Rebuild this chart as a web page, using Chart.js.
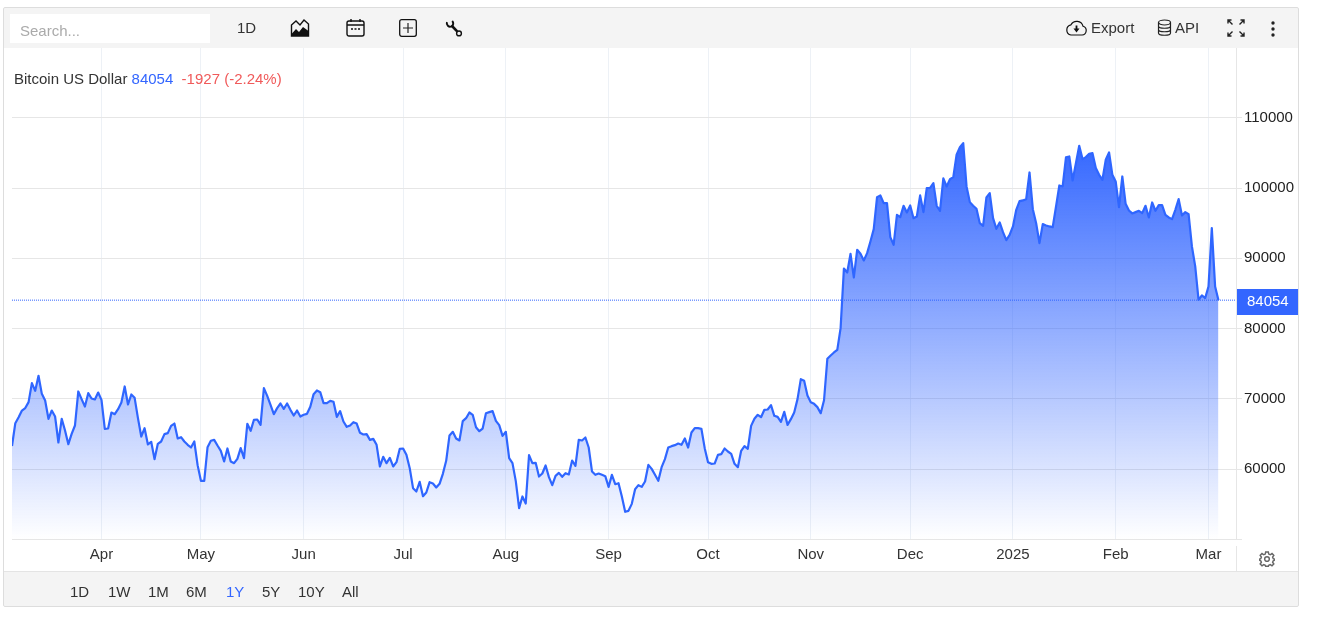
<!DOCTYPE html>
<html>
<head>
<meta charset="utf-8">
<title>Bitcoin US Dollar</title>
<script src="https://cdn.jsdelivr.net/npm/chart.js@4"></script>
<style>
  html, body { margin: 0; padding: 0; background: #fff; }
  body { width: 1320px; height: 628px; overflow: hidden; position: relative; font-family: "Liberation Sans", Arial, sans-serif; color: #333; }
  canvas { position: absolute; left: 0; top: 0; }
  .frame { position: absolute; left: 3px; top: 7px; width: 1294px; height: 598px; border: 1px solid #ddd; border-radius: 2px; pointer-events: none; }
  .bar { position: absolute; background: #f4f4f4; }
  .txt { position: absolute; font-size: 15px; line-height: 16px; white-space: nowrap; color: #333; }
  .ico { position: absolute; }
</style>
</head>
<body>
<canvas id="chart" width="1320" height="628"></canvas>

<div class="bar" style="left:4px;top:8px;width:1294px;height:40px"></div>
<div class="bar" style="left:4px;top:571px;width:1294px;height:34px;border-top:1px solid #e4e4e4"></div>
<div style="position:absolute;left:1236px;top:546px;width:1px;height:25px;background:#e6e6e6"></div>
<div class="frame"></div>

<div style="position:absolute;left:10px;top:14px;width:200px;height:29px;background:#fff"></div>
<div class="txt" style="left:20px;top:23px;color:#aaa">Search...</div>
<div class="txt" style="left:237px;top:20px">1D</div>

<svg class="ico" style="left:290px;top:18px" width="20" height="20" viewBox="0 0 20 20">
  <path d="M1.5 7 L6 3 L10 7 L14 2 L18.5 6 V18 H1.5 Z" fill="none" stroke="#111" stroke-width="1.4"/>
  <path d="M1.5 16 L6 11 L9 14 L13 9 L18.5 13 V18 H1.5 Z" fill="#111"/>
</svg>
<svg class="ico" style="left:346px;top:18px" width="19" height="19" viewBox="0 0 19 19">
  <rect x="1" y="3" width="17" height="15" rx="2" fill="none" stroke="#111" stroke-width="1.4"/>
  <path d="M1 7 H18 M5 1 V4 M14 1 V4" stroke="#111" stroke-width="1.4"/>
  <path d="M5 11 H7 M8.5 11 H10.5 M12 11 H14" stroke="#111" stroke-width="1.4"/>
</svg>
<svg class="ico" style="left:399px;top:19px" width="18" height="18" viewBox="0 0 18 18">
  <rect x="0.7" y="0.7" width="16.6" height="16.6" rx="2" fill="none" stroke="#111" stroke-width="1.3"/>
  <path d="M9 4 V14 M4 9 H14" stroke="#222" stroke-width="1.2"/>
</svg>
<svg class="ico" style="left:445px;top:19px" width="18" height="19" viewBox="0 0 18 19">
  <path d="M2.0 3.2 A3.3 3.3 0 0 0 6.5 7.3 A3.3 3.3 0 0 0 7.2 2" fill="none" stroke="#111" stroke-width="2"/>
  <path d="M6.5 6.5 L12.2 12.4" stroke="#111" stroke-width="2.6"/>
  <circle cx="14" cy="14.4" r="2.4" fill="none" stroke="#111" stroke-width="1.4"/>
</svg>

<svg class="ico" style="left:1065px;top:19px" width="23" height="18" viewBox="0 0 23 18">
  <path d="M6 16 H17 A4.5 4.5 0 0 0 18 7.2 A6.5 6.5 0 0 0 6 5.8 A5.2 5.2 0 0 0 6 16 Z" fill="none" stroke="#111" stroke-width="1.2"/>
  <path d="M8.5 9.5 H14.5 L11.5 13.5 Z M10.6 6.5 H12.4 V10 H10.6 Z" fill="#111"/>
</svg>
<div class="txt" style="left:1091px;top:20px">Export</div>
<svg class="ico" style="left:1157px;top:19px" width="15" height="18" viewBox="0 0 15 18">
  <ellipse cx="7.5" cy="3.5" rx="6" ry="2.5" fill="none" stroke="#222" stroke-width="1.2"/>
  <path d="M1.5 3.5 V14 C1.5 17 13.5 17 13.5 14 V3.5 M1.5 7 C1.5 10 13.5 10 13.5 7 M1.5 10.5 C1.5 13.5 13.5 13.5 13.5 10.5" fill="none" stroke="#222" stroke-width="1.2"/>
</svg>
<div class="txt" style="left:1175px;top:20px">API</div>
<svg class="ico" style="left:1226px;top:18px" width="20" height="20" viewBox="0 0 20 20">
  <path d="M2 5.5 V2 H5.5 M2 2 L6.5 6.5 M14.5 2 H18 V5.5 M18 2 L13.5 6.5 M2 14.5 V18 H5.5 M2 18 L6.5 13.5 M14.5 18 H18 V14.5 M18 18 L13.5 13.5" fill="none" stroke="#222" stroke-width="1.4"/>
</svg>
<svg class="ico" style="left:1270px;top:20px" width="6" height="18" viewBox="0 0 6 18">
  <circle cx="3" cy="3" r="1.7" fill="#222"/><circle cx="3" cy="9" r="1.7" fill="#222"/><circle cx="3" cy="15" r="1.7" fill="#222"/>
</svg>

<div class="txt" style="left:14px;top:71px" id="title">Bitcoin US Dollar <span style="color:#3366ff">84054</span>&nbsp; <span style="color:#f05a5a">-1927 (-2.24%)</span></div>

<svg class="ico" style="left:1259px;top:551px" width="16" height="16" viewBox="0 0 24 24">
  <path d="M12 8.5 A3.5 3.5 0 1 0 12 15.5 A3.5 3.5 0 1 0 12 8.5 Z M10 1.5 H14 L14.6 4.6 L16.9 5.6 L19.5 3.8 L22.2 6.5 L20.4 9.1 L21.4 11.4 L23 12 V14 L21.4 14.6 L20.4 16.9 L22.2 19.5 L19.5 22.2 L16.9 20.4 L14.6 21.4 L14 23 H10 L9.4 21.4 L7.1 20.4 L4.5 22.2 L1.8 19.5 L3.6 16.9 L2.6 14.6 L1 14 V12 L2.6 11.4 L3.6 9.1 L1.8 6.5 L4.5 3.8 L7.1 5.6 L9.4 4.6 Z" fill="none" stroke="#666" stroke-width="2.2"/>
</svg>

<div class="txt" style="left:70px;top:584px">1D</div>
<div class="txt" style="left:108px;top:584px">1W</div>
<div class="txt" style="left:148px;top:584px">1M</div>
<div class="txt" style="left:186px;top:584px">6M</div>
<div class="txt" style="left:226px;top:584px;color:#3366ff">1Y</div>
<div class="txt" style="left:262px;top:584px">5Y</div>
<div class="txt" style="left:298px;top:584px">10Y</div>
<div class="txt" style="left:342px;top:584px">All</div>

<script>
// daily closes, first point is 2024-03-05
const prices = [
  63300, 66550, 67400, 68350, 68700, 69540, 72240, 71150, 73290, 70720,
  69780, 67170, 68350, 67500, 63800, 67170, 65510, 63560, 65030, 66220,
  71060, 69970, 68920, 70820, 70060, 69920, 70910, 69870, 65750, 65790,
  68070, 67830, 68540, 69490, 71770, 69210, 70630, 70160, 67260, 64650,
  65840, 63520, 63900, 61430, 63610, 63940, 64990, 65130, 66170, 66500,
  64370, 64560, 63940, 63470, 63090, 63940, 60580, 58350, 58350, 63140,
  64040, 64180, 63370, 62620, 61100, 62950, 61100, 60860, 61480, 63000,
  61570, 66460, 65460, 67030, 67070, 66310, 71530, 70440, 69160, 67830,
  68690, 69350, 68590, 69350, 68450, 67640, 68350, 67500, 67740, 67880,
  68880, 70680, 71200, 70960, 69400, 69400, 69730, 69590, 67450, 68260,
  66790, 66030, 66220, 66690, 66500, 65180, 64940, 64990, 64180, 64320,
  63470, 60390, 61760, 60860, 61620, 60390, 61000, 62900, 62950, 62050,
  60150, 57300, 56830, 58200, 56160, 56690, 58160, 57970, 57400, 57920,
  59340, 61190, 64800, 65320, 64370, 64090, 66840, 67260, 68070, 67740,
  65980, 65410, 65790, 67970, 68120, 68260, 66880, 66270, 64750, 65320,
  61570, 60860, 58300, 54460, 56120, 55120, 62000, 60860, 60910, 58960,
  59390, 60530, 58870, 57730, 59060, 59480, 58920, 59440, 59250, 61240,
  60480, 64180, 64090, 64510, 63090, 59670, 59200, 59390, 59200, 59010,
  57490, 59200, 57870, 58010, 56120, 53940, 54080, 55070, 57160, 57730,
  57490, 58250, 60620, 60050, 59200, 58350, 60290, 61430, 63090, 63280,
  63420, 63660, 63470, 64370, 63090, 65220, 65840, 65840, 65750, 63000,
  61000, 60770, 60810, 62050, 62140, 62950, 62520, 62190, 60770, 60290,
  62620, 63280, 62900, 66170, 67170, 67740, 67400, 68450, 68500, 69110,
  67600, 67450, 66740, 68160, 66310, 67120, 68070, 69970, 72810, 72580,
  70490, 69540, 69300, 68830, 67970, 69800, 75710, 76180, 76610, 76990,
  80070, 88560, 87990, 90650, 87280, 91220, 90650, 89700, 90740, 92400,
  94160, 98710, 98950, 97860, 97860, 93020, 91930, 96200, 95870, 97480,
  96530, 97530, 95720, 95960, 98950, 96580, 99990, 100040, 100700, 97480,
  96770, 101370, 100230, 101270, 101560, 104740, 105830, 106400, 100230, 98000,
  97480, 97050, 95010, 94630, 98660, 99280, 95720, 94200, 95110, 93730,
  92590, 93350, 94540, 96910, 98140, 98240, 98430, 102220, 97000, 95010,
  92170, 94870, 94680, 94540, 94440, 97380, 100370, 100230, 104360, 104500,
  101080, 103550, 106020, 104120, 104400, 104880, 104970, 102840, 101890, 101180,
  104020, 105070, 101890, 100940, 97290, 101650, 97760, 96810, 96390, 96580,
  96770, 96430, 97480, 95820, 97950, 96770, 97570, 97570, 96200, 95820,
  95580, 96910, 98430, 96100, 96580, 96290, 91690, 88850, 84100, 84720,
  84340, 86000, 94300, 85981, 84054
];
// day index of the first of each month, counted from the first point
const monthDays = [27, 57, 88, 118, 149, 180, 210, 241, 271, 302, 333, 361];
const monthLabels = ["Apr", "May", "Jun", "Jul", "Aug", "Sep", "Oct", "Nov", "Dec", "2025", "Feb", "Mar"];
const yTicksHidden = [50000, 120000];

const lastPrice = prices[prices.length - 1];
const xMax = 369.3;

function areaFill(ctx) {
  const { chart } = ctx;
  if (!chart.chartArea) return "rgba(51,102,255,0.4)";
  const top = chart.scales.y.getPixelForValue(Math.max(...prices));
  const g = chart.ctx.createLinearGradient(0, top, 0, chart.chartArea.bottom);
  g.addColorStop(0, "rgba(45,98,255,0.97)");
  g.addColorStop(1, "rgba(45,98,255,0)");
  return g;
}

const priceTag = {
  id: "priceTag",
  afterDraw(chart) {
    const { ctx, scales } = chart;
    const y = Math.round(scales.y.getPixelForValue(lastPrice));
    ctx.save();
    ctx.fillStyle = "#3366ff";
    ctx.fillRect(1237, y - 11, 61, 26);
    ctx.fillStyle = "#fff";
    ctx.font = '15px "Liberation Sans"';
    ctx.textBaseline = "middle";
    ctx.fillText(String(lastPrice), 1247, y + 2);
    ctx.restore();
  }
};

new Chart(document.getElementById("chart"), {
  type: "line",
  data: {
    datasets: [
      {
        data: prices.map((v, i) => ({ x: i, y: v })),
        borderColor: "#2f66ff",
        borderWidth: 2.2,
        borderJoinStyle: "round",
        pointRadius: 0,
        tension: 0,
        fill: "start",
        backgroundColor: areaFill
      },
      {
        data: [{ x: 0, y: lastPrice }, { x: xMax, y: lastPrice }],
        borderColor: "#3366ff",
        borderWidth: 1,
        borderDash: [1, 1],
        pointRadius: 0,
        fill: false
      }
    ]
  },
  options: {
    responsive: false,
    animation: false,
    devicePixelRatio: 1,
    layout: { padding: { left: 12, top: 47.5, right: 0, bottom: 0 } },
    plugins: { legend: { display: false }, tooltip: { enabled: false } },
    scales: {
      x: {
        type: "linear",
        min: 0,
        max: xMax,
        afterBuildTicks: (scale) => { scale.ticks = monthDays.map((d) => ({ value: d })); },
        afterFit: (scale) => { scale.height = 88.5; },
        grid: { color: "#edf1f6", drawTicks: false },
        border: { color: "#e6e6e6" },
        ticks: {
          autoSkip: false,
          maxRotation: 0,
          padding: 6,
          color: "#333",
          font: { family: "Liberation Sans", size: 15 },
          callback: (v) => monthLabels[monthDays.indexOf(v)]
        }
      },
      y: {
        position: "right",
        min: 50000,
        max: 120000,
        afterFit: (scale) => { scale.width = 84; },
        grid: { color: "#e6e6e6", tickLength: 6 },
        border: { color: "#e6e6e6" },
        ticks: {
          stepSize: 10000,
          padding: 2,
          color: "#222",
          font: { family: "Liberation Sans", size: 15 },
          callback: (v) => (yTicksHidden.includes(v) ? "" : String(v))
        }
      }
    }
  },
  plugins: [priceTag]
});
</script>
</body>
</html>
